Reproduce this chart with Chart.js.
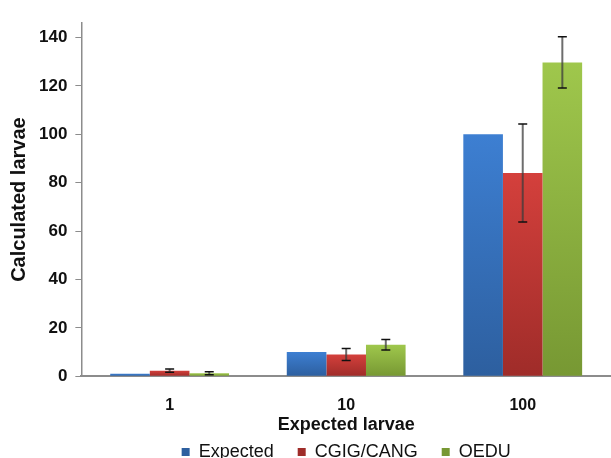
<!DOCTYPE html>
<html>
<head>
<meta charset="utf-8">
<script src="https://cdn.jsdelivr.net/npm/chart.js@4/dist/chart.umd.min.js"></script>
<style>
  html, body { margin: 0; padding: 0; background: #fff; }
  #wrap { width: 611px; height: 458px; }
</style>
</head>
<body>
<div id="wrap"><canvas id="larvaeChart"></canvas></div>
<script>
// values
const categories = ["1", "10", "100"];
const expectedValues = [1, 10, 100];
const cgigValues = [2.3, 9, 84];
const cgigErrors = [0.7, 2.5, 20.3];
const oeduValues = [1.2, 13, 129.7];
const oeduErrors = [0.6, 2.2, 10.6];
const yTicks = [0, 20, 40, 60, 80, 100, 120, 140];

// per-bar vertical gradient, lighter on top like the office look
function barGradient(light, dark) {
    return (ctx) => {
        const chart = ctx.chart;
        const y = chart.scales.y;
        if (!y || ctx.raw === undefined) return light;
        const top = y.getPixelForValue(ctx.raw);
        const bottom = y.getPixelForValue(0);
        if (!isFinite(top) || !isFinite(bottom) || bottom - top < 1) return light;
        const g = chart.ctx.createLinearGradient(0, top, 0, bottom);
        g.addColorStop(0, light);
        g.addColorStop(1, dark);
        return g;
    };
}

// draws the error bars of each dataset that has some
const errorBars = {
    id: "errorBars",
    afterDatasetsDraw(chart) {
        const c = chart.ctx;
        const y = chart.scales.y;
        chart.data.datasets.forEach((ds, di) => {
            if (!ds.errors) return;
            const meta = chart.getDatasetMeta(di);
            meta.data.forEach((bar, i) => {
                const v = ds.data[i];
                const e = ds.errors[i];
                const yTop = y.getPixelForValue(v + e);
                const yBot = y.getPixelForValue(v - e);
                c.save();
                c.strokeStyle = "rgba(60,60,60,0.75)";
                c.lineWidth = 2;
                c.beginPath();
                c.moveTo(bar.x, yTop);
                c.lineTo(bar.x, yBot);
                c.stroke();
                c.strokeStyle = "#111";
                c.lineWidth = 1.5;
                c.beginPath();
                c.moveTo(bar.x - 4.5, yTop);
                c.lineTo(bar.x + 4.5, yTop);
                c.moveTo(bar.x - 4.5, yBot);
                c.lineTo(bar.x + 4.5, yBot);
                c.stroke();
                c.restore();
            });
        });
    }
};

const font = "'Liberation Sans', Arial, sans-serif";

new Chart(document.getElementById("larvaeChart"), {
    type: "bar",
    data: {
        labels: categories,
        datasets: [
            {
                label: "Expected",
                data: expectedValues,
                backgroundColor: barGradient("#3d7fd2", "#2d5f9f"),
            },
            {
                label: "CGIG/CANG",
                data: cgigValues,
                errors: cgigErrors,
                backgroundColor: barGradient("#d4403c", "#9f2c29"),
            },
            {
                label: "OEDU",
                data: oeduValues,
                errors: oeduErrors,
                backgroundColor: barGradient("#9fc74c", "#779833"),
            },
        ],
    },
    options: {
        responsive: true,
        maintainAspectRatio: false,
        animation: false,
        categoryPercentage: 0.673,
        barPercentage: 1.0,
        layout: { padding: { top: 23, right: 0, left: 4, bottom: -13 } },
        scales: {
            x: {
                grid: { display: false, drawTicks: false },
                border: { color: "#8c8c8c", width: 2 },
                ticks: {
                    color: "#111",
                    font: { family: font, size: 16, weight: "bold" },
                    padding: 20,
                },
                title: {
                    display: true,
                    text: "Expected larvae",
                    color: "#111",
                    font: { family: font, size: 18, weight: "bold" },
                    padding: { top: -21, bottom: -17 },
                },
            },
            y: {
                min: 0,
                max: 146,
                afterBuildTicks: (axis) => {
                    axis.ticks = yTicks.map((v) => ({ value: v }));
                },
                grid: {
                    display: true,
                    drawOnChartArea: false,
                    drawTicks: true,
                    tickLength: 6,
                    color: "#8c8c8c",
                },
                border: { color: "#8c8c8c", width: 1.5 },
                ticks: {
                    color: "#111",
                    font: { family: font, size: 17, weight: "bold" },
                    padding: 8,
                },
                title: {
                    display: true,
                    text: "Calculated larvae",
                    color: "#111",
                    font: { family: font, size: 20, weight: "bold" },
                    padding: { top: 3, bottom: 0 },
                },
            },
        },
        plugins: {
            legend: {
                position: "bottom",
                fullSize: false,
                labels: {
                    color: "#111",
                    font: { family: font, size: 18 },
                    boxWidth: 8,
                    boxHeight: 8,
                    padding: 24,
                },
            },
            tooltip: { enabled: false },
        },
    },
    plugins: [errorBars],
});
</script>
</body>
</html>
